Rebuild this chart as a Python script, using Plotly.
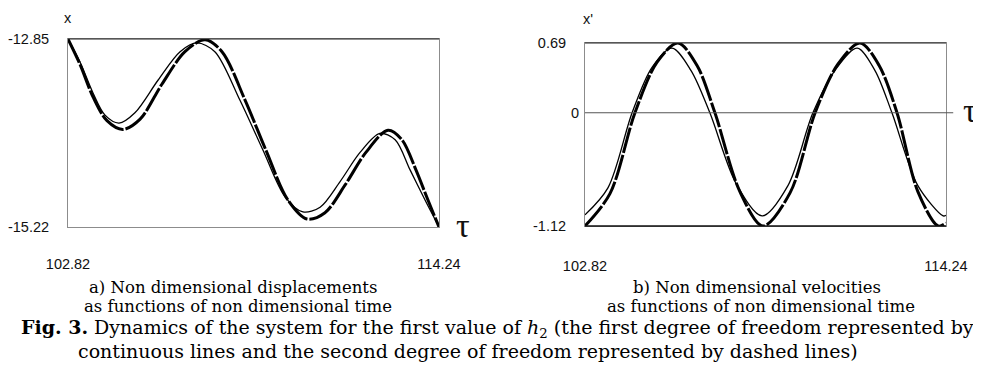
import plotly.graph_objects as go

# ---------------- data ----------------
tau_range = [102.82, 114.24]
disp_range = [-15.22, -12.85]
vel_range = [-1.12, 0.69]

tau_ticktext = ["102.82", "114.24"]
disp_ticktext = ["-15.22", "-12.85"]
vel_ticks = [-1.12, 0.69]
vel_ticktext = ["-1.12", "0.69"]

# displacement, first degree of freedom (continuous)
tau_d1 = [102.82, 103.19, 103.59, 103.96, 104.39, 104.88, 105.59, 106.27, 106.79, 107.34,
          108.11, 108.82, 109.50, 110.05, 110.58, 111.19, 111.81, 112.42, 112.89, 113.35,
          113.81, 114.24]
disp_1 = [-12.85, -13.14, -13.53, -13.81, -13.91, -13.78, -13.37, -13.01, -12.90, -13.01,
          -13.62, -14.25, -14.84, -15.03, -14.97, -14.65, -14.28, -14.04, -14.12, -14.50,
          -14.88, -15.22]
# displacement, second degree of freedom (dashed)
tau_d2 = [102.82, 103.19, 103.59, 104.02, 104.51, 105.04, 105.71, 106.42, 107.04, 107.56,
          108.27, 108.91, 109.59, 110.18, 110.73, 111.35, 111.99, 112.67, 113.10, 113.53,
          113.90, 114.24]
disp_2 = [-12.85, -13.17, -13.58, -13.88, -13.99, -13.86, -13.42, -13.01, -12.86, -13.01,
          -13.62, -14.25, -14.88, -15.12, -15.04, -14.69, -14.28, -14.00, -14.12, -14.50,
          -14.88, -15.22]

# velocity, first degree of freedom (continuous)
tau_v1 = [102.82, 103.55, 104.31, 104.94, 105.57, 106.17, 106.77, 107.60, 108.42, 109.24,
          110.03, 110.73, 111.43, 111.99, 112.53, 113.35, 114.15, 114.24]
vel_1 = [-1.01, -0.74, 0.00, 0.45, 0.64, 0.42, 0.00, -0.70, -1.02, -0.72,
         0.00, 0.42, 0.64, 0.42, 0.00, -0.72, -1.02, -1.015]
# velocity, second degree of freedom (dashed)
tau_v2 = [102.82, 103.61, 104.40, 105.10, 105.76, 106.36, 106.93, 107.72, 108.45, 109.31,
          110.10, 110.82, 111.52, 112.12, 112.69, 113.35, 113.99, 114.24]
vel_2 = [-1.12, -0.80, 0.00, 0.50, 0.69, 0.47, 0.00, -0.78, -1.12, -0.79,
         0.00, 0.48, 0.69, 0.47, 0.00, -0.78, -1.12, -1.09]

# ---------------- figure ----------------
W, H = 981, 384
OFF = 8  # the page body margin shifts the figure by this many pixels


def px(x):
    return (x - OFF) / W


def py(y):
    return 1 - (y - OFF) / H


TICKFONT = dict(family="Liberation Sans, Arial, sans-serif", size=14.5, color="#111")
CAPFONT = "DejaVu Serif, serif"
GRAY = "#8c8c8c"

thin = dict(color="black", width=1.3, shape="spline", smoothing=0.9)
thick = dict(color="black", width=3.0, shape="spline", smoothing=0.9, dash="26px,2px")

fig = go.Figure()
fig.add_trace(go.Scatter(x=tau_d1, y=disp_1, mode="lines", line=thin, xaxis="x", yaxis="y",
                         showlegend=False, hoverinfo="skip"))
fig.add_trace(go.Scatter(x=tau_d2, y=disp_2, mode="lines", line=thick, xaxis="x", yaxis="y",
                         showlegend=False, hoverinfo="skip"))
fig.add_trace(go.Scatter(x=tau_v1, y=vel_1, mode="lines", line=thin, xaxis="x2", yaxis="y2",
                         showlegend=False, hoverinfo="skip"))
fig.add_trace(go.Scatter(x=tau_v2, y=vel_2, mode="lines", line=thick, xaxis="x2", yaxis="y2",
                         showlegend=False, hoverinfo="skip"))

ax_common = dict(showgrid=False, zeroline=False, showline=True, linecolor=GRAY, linewidth=1,
                 mirror=True, ticks="", tickfont=TICKFONT, fixedrange=True, automargin=False)

fig.update_layout(
    template="none",
    width=W, height=H,
    margin=dict(l=0, r=0, t=0, b=0, pad=0, autoexpand=False),
    paper_bgcolor="white", plot_bgcolor="white",
    xaxis=dict(domain=[px(68), px(439)], range=tau_range, tickvals=tau_range,
               ticktext=tau_ticktext, anchor="y", ticklabelstandoff=24, **ax_common),
    yaxis=dict(domain=[py(227), py(39)], range=disp_range, tickvals=disp_range,
               ticktext=disp_ticktext, anchor="x", ticklabelstandoff=15, **ax_common),
    xaxis2=dict(domain=[px(585), px(946)], range=tau_range, tickvals=tau_range,
                ticktext=tau_ticktext, anchor="y2", ticklabelstandoff=27, **ax_common),
    yaxis2=dict(domain=[py(226), py(43)], range=vel_range, tickvals=vel_ticks,
                ticktext=vel_ticktext, anchor="x2", ticklabelstandoff=15, **ax_common),
)

# darker frame edges
fig.add_shape(type="line", xref="x domain", yref="y domain", x0=0, x1=1, y0=1, y1=1,
              line=dict(color="#222", width=1.2))
fig.add_shape(type="line", xref="x2 domain", yref="y2 domain", x0=0, x1=1, y0=1, y1=1,
              line=dict(color="#222", width=1.2))
fig.add_shape(type="line", xref="x2 domain", yref="y2 domain", x0=0, x1=1, y0=0, y1=0,
              line=dict(color="#111", width=1.6))
# tau axis through zero on right panel (extends slightly past the frame)
fig.add_shape(type="line", xref="x2 domain", yref="y2", x0=0, x1=1.02, y0=0, y1=0,
              line=dict(color="#555", width=1.1))

fig.add_annotation(xref="x2 domain", yref="y2", x=0, y=0, text="0", showarrow=False,
                   xanchor="right", yanchor="middle", xshift=-4, font=TICKFONT)


def label(x, y, text, font):
    fig.add_annotation(xref="paper", yref="paper", x=px(x), y=py(y), text=text,
                       showarrow=False, font=font, xanchor="center", yanchor="middle")


# axis titles
label(68, 18, "x", TICKFONT)
label(588, 19, "x'", TICKFONT)
TAUFONT = dict(family="Liberation Serif, serif", size=34, color="#111")
label(463, 225, "τ", TAUFONT)
label(970, 110, "τ", TAUFONT)

# captions
CAP = dict(family=CAPFONT, size=16.5, color="black")
CAPBIG = dict(family=CAPFONT, size=19, color="black")
label(233, 287, "a) Non dimensional displacements", CAP)
label(238, 306, "as functions of non dimensional time", CAP)
label(757, 287, "b) Non dimensional velocities", CAP)
label(761, 306, "as functions of non dimensional time", CAP)
label(497, 328, "<b>Fig. 3.</b> Dynamics of the system for the first value of <i>h</i><sub>2</sub> "
                "(the first degree of freedom represented by", CAPBIG)
label(468, 351, "continuous lines and the second degree of freedom represented by dashed lines)",
      CAPBIG)

fig.write_html("out.html")
